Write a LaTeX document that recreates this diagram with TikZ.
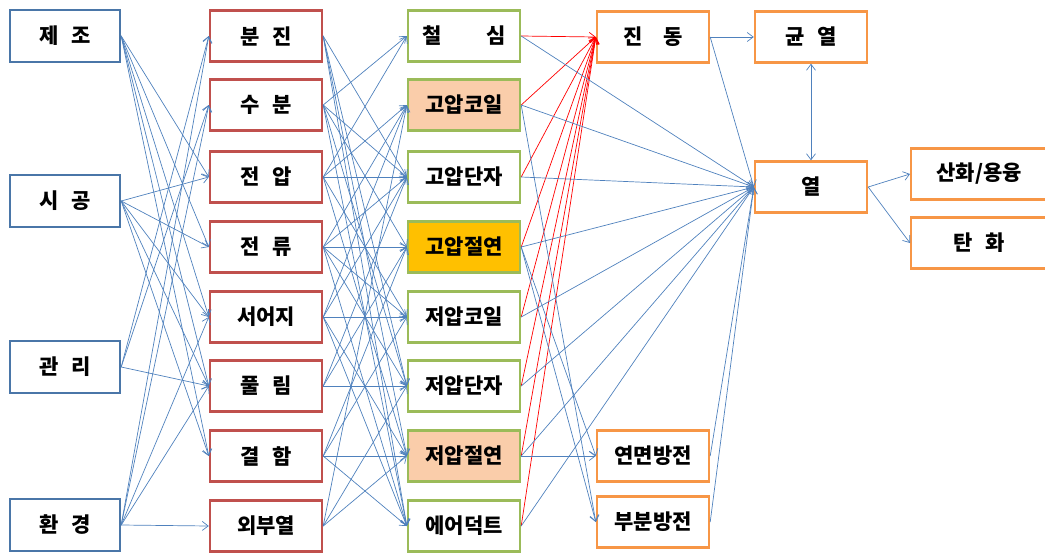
\documentclass[tikz,border=0pt]{standalone}
\usepackage{fontspec}
\newfontfamily\kr{Noto Sans CJK KR}
\usetikzlibrary{arrows.meta}
\definecolor{cA}{RGB}{74,118,168}
\definecolor{cB}{RGB}{192,80,77}
\definecolor{cC}{RGB}{155,187,89}
\definecolor{cD}{RGB}{247,150,70}
\definecolor{peach}{RGB}{250,205,170}
\definecolor{gold}{RGB}{255,192,0}
\definecolor{eb}{RGB}{79,129,189}
\tikzset{
  box/.style={draw, line width=2.4pt, minimum width=112pt, minimum height=51pt, inner sep=0pt, fill=white,
    font=\kr\bfseries\fontsize{21}{25}\selectfont},
  boxA/.style={box, draw=cA, minimum width=110pt, minimum height=52pt},
  boxB/.style={box, draw=cB},
  boxC/.style={box, draw=cC},
  boxD/.style={box, draw=cD},
  eg/.style={draw=eb, line width=0.7pt, -{Straight Barb[length=6pt,width=9pt]}},
  er/.style={draw=red, line width=0.7pt, -{Straight Barb[length=6pt,width=9pt]}},
}
\newcommand{\kgap}{\hspace{0.6em}}
\begin{document}
\begin{tikzpicture}[x=1pt,y=-1pt]
\useasboundingbox (0,0) rectangle (1045,555);
% column 1
\node[boxA] (jejo) at (65,36) {제\kgap 조};
\node[boxA] (sigong) at (65,201) {시\kgap 공};
\node[boxA] (gwanri) at (65,367) {관\kgap 리};
\node[boxA] (hwangyeong) at (65,525) {환\kgap 경};
% column 2
\node[boxB] (bunjin) at (266,36) {분\kgap 진};
\node[boxB] (subun) at (266,105) {수\kgap 분};
\node[boxB] (jeonap) at (266,177) {전\kgap 압};
\node[boxB] (jeonryu) at (266,247) {전\kgap 류};
\node[boxB] (surge) at (266,317) {서어지};
\node[boxB] (pullim) at (266,386) {풀\kgap 림};
\node[boxB] (gyeolham) at (266,456) {결\kgap 함};
\node[boxB] (oebu) at (266,526) {외부열};
% column 3
\node[boxC] (cheolsim) at (464,36) {철\hspace{2.1em}심};
\node[boxC, fill=peach] (hvcoil) at (464,105) {고압코일};
\node[boxC] (hvterm) at (464,177) {고압단자};
\node[boxC, fill=gold] (hvins) at (464,247) {고압절연};
\node[boxC] (lvcoil) at (464,317) {저압코일};
\node[boxC] (lvterm) at (464,386) {저압단자};
\node[boxC, fill=peach] (lvins) at (464,456) {저압절연};
\node[boxC] (duct) at (464,526) {에어덕트};
% column 4
\node[boxD] (jindong) at (653,37) {진\hspace{1em}동};
\node[boxD] (yeonmyeon) at (653,456) {연면방전};
\node[boxD] (bubun) at (653,522) {부분방전};
% column 5
\node[boxD] (gyunyeol) at (811,37) {균\kgap 열};
\node[boxD] (yeol) at (811,187) {열};
% column 6
\node[boxD, minimum width=136pt, anchor=west] (sanhwa) at (910,174) {산화/용융};
\node[boxD, minimum width=136pt, anchor=west] (tanhwa) at (910,243) {탄\kgap 화};
% col1 -> col2
\foreach \t in {jeonap,jeonryu,surge,pullim,gyeolham} \draw[eg] (jejo.east) -- (\t.west);
\foreach \t in {jeonap,jeonryu,surge,pullim,gyeolham} \draw[eg] (sigong.east) -- (\t.west);
\foreach \t in {bunjin,subun,pullim} \draw[eg] (gwanri.east) -- (\t.west);
\foreach \t in {bunjin,subun,surge,pullim,oebu} \draw[eg] (hwangyeong.east) -- (\t.west);
% col2 -> col3
\foreach \t in {hvterm,lvterm,lvins,duct} \draw[eg] (bunjin.east) -- (\t.west);
\foreach \t in {cheolsim,hvterm,hvins,lvterm,duct} \draw[eg] (subun.east) -- (\t.west);
\foreach \t in {cheolsim,hvcoil,hvterm,lvcoil,lvins} \draw[eg] (jeonap.east) -- (\t.west);
\foreach \t in {hvcoil,hvterm,hvins,lvcoil,lvterm,duct} \draw[eg] (jeonryu.east) -- (\t.west);
\foreach \t in {hvcoil,hvterm,lvcoil,lvins,duct} \draw[eg] (surge.east) -- (\t.west);
\foreach \t in {hvterm,hvins,lvterm} \draw[eg] (pullim.east) -- (\t.west);
\foreach \t in {hvins,lvcoil,lvins,duct} \draw[eg] (gyeolham.east) -- (\t.west);
\foreach \t in {hvcoil,lvterm,lvins} \draw[eg] (oebu.east) -- (\t.west);
% col3 -> vibration (red)
\foreach \s in {cheolsim,hvcoil,hvterm,hvins,lvcoil,lvterm,lvins,duct} \draw[er] (\s.east) -- (jindong.west);
% col3 -> heat
\foreach \s in {cheolsim,hvcoil,hvterm,hvins,lvcoil,lvterm,lvins,duct} \draw[eg] (\s.east) -- (yeol.west);
% col3 -> discharges
\draw[eg] (hvcoil.east) -- (bubun.west);
\draw[eg] (hvins.east) -- (yeonmyeon.west);
\draw[eg] (hvins.east) -- (bubun.west);
\draw[eg] (lvins.east) -- (yeonmyeon.west);
% col4 -> col5
\draw[eg] (jindong.east) -- (gyunyeol.west);
\draw[eg] (jindong.east) -- (yeol.west);
\draw[eg] (yeonmyeon.east) -- (yeol.west);
\draw[eg] (bubun.east) -- (yeol.west);
\draw[eg, {Straight Barb[length=6pt,width=9pt]}-{Straight Barb[length=6pt,width=9pt]}] (gyunyeol.south) -- (yeol.north);
% col5 -> col6
\draw[eg] (yeol.east) -- (sanhwa.west);
\draw[eg] (yeol.east) -- (tanhwa.west);
\end{tikzpicture}
\end{document}
